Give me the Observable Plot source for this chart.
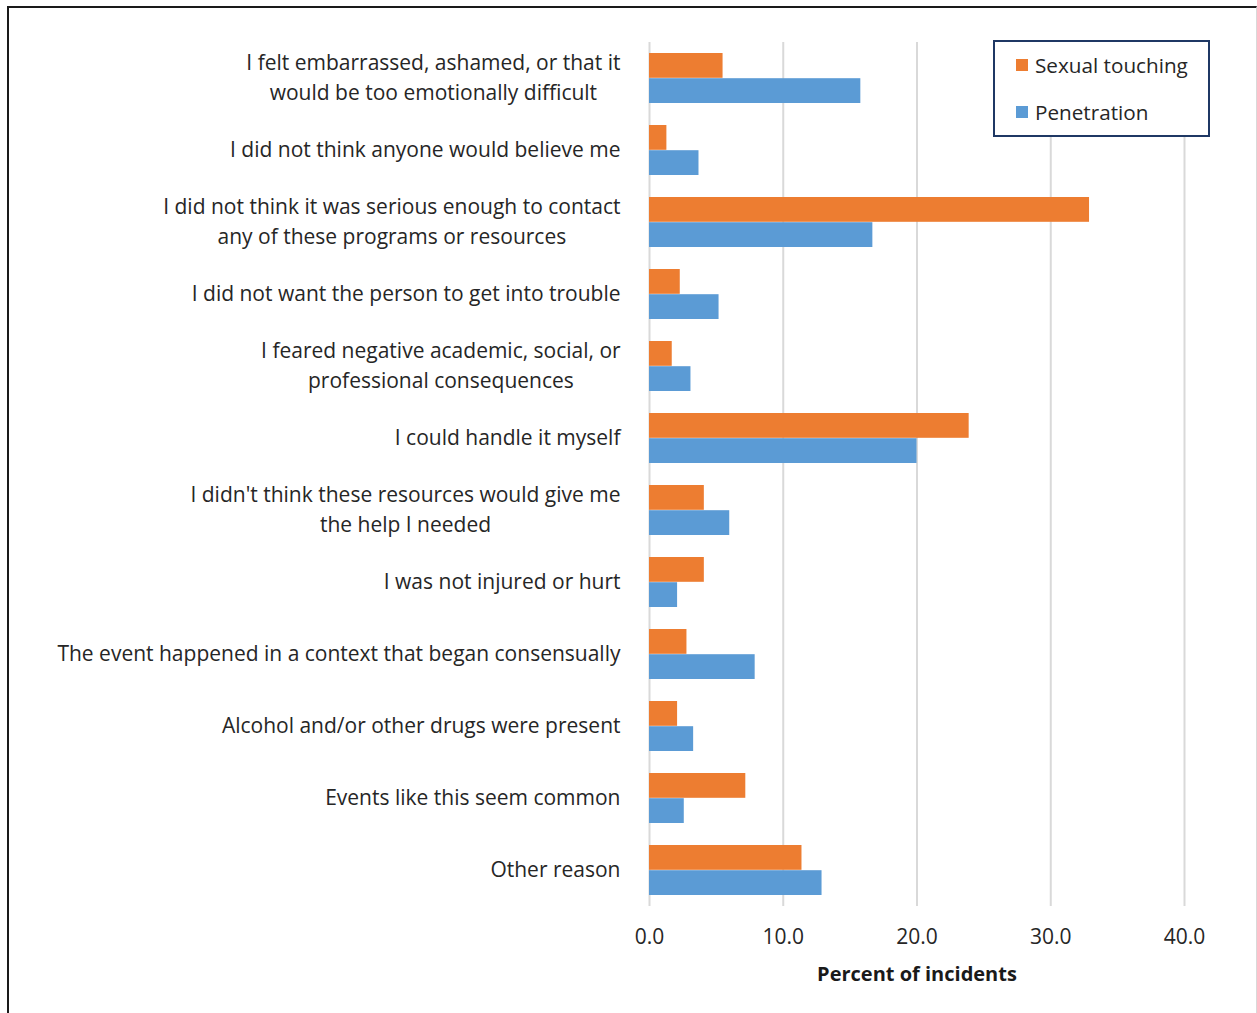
<!DOCTYPE html>
<html>
<head>
<meta charset="utf-8">
<script src="https://cdn.jsdelivr.net/npm/d3@7"></script>
<script src="https://cdn.jsdelivr.net/npm/@observablehq/plot@0.6"></script>
<style>
  html, body { margin: 0; padding: 0; background: #fff; }
  #wrap { position: relative; width: 1257px; height: 1013px; overflow: hidden; font-family: "Open Sans", sans-serif; }
  #frame { position: absolute; left: 7px; top: 6px; width: 1247px; height: 1020px;
           border-top: 2px solid #1a1a1a; border-left: 2px solid #1a1a1a; border-right: 1px solid #d9d9d9; }
  #chart { position: absolute; left: 0; top: 0; }
  #legend { position: absolute; left: 993px; top: 40px; width: 213px; height: 93px;
            border: 2px solid #1f3864; background: #fff; }
  .li { position: absolute; left: 21px; display: flex; align-items: center; font-size: 20.7px; color: #262626; }
  .sw { width: 12px; height: 12px; margin-right: 7px; }
</style>
</head>
<body>
<div id="wrap">
  <div id="frame"></div>
  <div id="chart"></div>
  <div id="legend"></div>
</div>
<script>
const categories = [
  "I felt embarrassed, ashamed, or that it\nwould be too emotionally difficult",
  "I did not think anyone would believe me",
  "I did not think it was serious enough to contact\nany of these programs or resources",
  "I did not want the person to get into trouble",
  "I feared negative academic, social, or\nprofessional consequences",
  "I could handle it myself",
  "I didn't think these resources would give me\nthe help I needed",
  "I was not injured or hurt",
  "The event happened in a context that began consensually",
  "Alcohol and/or other drugs were present",
  "Events like this seem common",
  "Other reason"
];
const touching    = [5.5, 1.3, 32.9, 2.3, 1.7, 23.9, 4.1, 4.1, 2.8, 2.1, 7.2, 11.4];
const penetration = [15.8, 3.7, 16.7, 5.2, 3.1, 20.0, 6.0, 2.1, 7.9, 3.3, 2.6, 12.9];
const seriesNames = ["Sexual touching", "Penetration"];
const seriesColors = ["#ED7D31", "#5B9BD5"];
const xTicks = [0, 10, 20, 30, 40];
const xTitle = "Percent of incidents";

const rowsT = categories.map((c, i) => ({category: c, value: touching[i]}));
const rowsP = categories.map((c, i) => ({category: c, value: penetration[i]}));

const W = 1257, H = 1013;
const mTop = 42, mBottom = 107, mLeft = 649, mRight = 73;
const nCat = categories.length;
const pInner = 0.3, pOuter = 0.15;
const step = (H - mTop - mBottom) / (nCat - pInner + 2 * pOuter);
const half = step * (1 - pInner) / 2;

const plot = Plot.plot({
  width: W,
  height: H,
  marginTop: mTop,
  marginBottom: mBottom,
  marginLeft: mLeft,
  marginRight: mRight,
  style: {fontFamily: "'Open Sans', sans-serif", fontSize: "21px", color: "#262626", background: "transparent", overflow: "visible"},
  x: {domain: [0, 40], label: null},
  y: {domain: categories, paddingInner: pInner, paddingOuter: pOuter, axis: null, label: null},
  marks: [
    Plot.ruleX(xTicks, {stroke: "#d9d9d9", strokeWidth: 2}),
    Plot.barX(rowsT, {y: "category", x: "value", fill: seriesColors[0], insetBottom: half}),
    Plot.barX(rowsP, {y: "category", x: "value", fill: seriesColors[1], insetTop: half}),
    Plot.axisY({tickSize: 0, tickPadding: 29, fontSize: 21, lineHeight: 1.43, fill: "#262626", dy: -3, label: null}),
    Plot.axisX({ticks: xTicks, tickFormat: d => d.toFixed(1), tickSize: 0, tickPadding: 23, fontSize: 21, fill: "#262626", label: null}),
    Plot.text([xTitle], {frameAnchor: "bottom", lineAnchor: "middle", dy: 68, fontWeight: "bold", fontSize: 20, fill: "#1a1a1a"})
  ]
});
document.getElementById("chart").appendChild(plot);

// Center the lines of wrapped category labels (as in the original)
plot.querySelectorAll("text").forEach(t => {
  const spans = t.querySelectorAll("tspan");
  if (spans.length > 1) {
    const bb = t.getBBox();
    t.setAttribute("text-anchor", "middle");
    spans.forEach(s => s.setAttribute("x", bb.x + bb.width / 2));
  }
});

// Legend
const legend = document.getElementById("legend");
seriesNames.forEach((name, i) => {
  const d = document.createElement("div");
  d.className = "li";
  d.style.top = (i === 0 ? 9 : 56) + "px";
  d.innerHTML = `<span class="sw" style="background:${seriesColors[i]}"></span><span>${name}</span>`;
  legend.appendChild(d);
});
</script>
</body>
</html>
